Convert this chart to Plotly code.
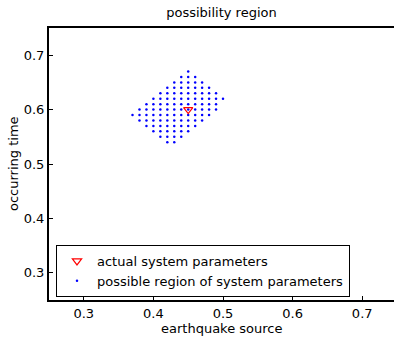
import plotly.graph_objects as go

# Actual system parameters
actual_x = [0.45]
actual_y = [0.60]

# Possible region of system parameters: one list of x values per row (y value)
row_y = [0.67, 0.66, 0.65, 0.64, 0.63, 0.62, 0.61, 0.60, 0.59, 0.58, 0.57, 0.56, 0.55, 0.54]
row_x = [
    [0.45],
    [0.44, 0.45, 0.46],
    [0.43, 0.44, 0.45, 0.46, 0.47],
    [0.42, 0.43, 0.44, 0.45, 0.46, 0.47, 0.48],
    [0.41, 0.42, 0.43, 0.44, 0.45, 0.46, 0.47, 0.48, 0.49],
    [0.40, 0.41, 0.42, 0.43, 0.44, 0.45, 0.46, 0.47, 0.48, 0.49, 0.50],
    [0.39, 0.40, 0.41, 0.42, 0.43, 0.44, 0.45, 0.46, 0.47, 0.48, 0.49],
    [0.38, 0.39, 0.40, 0.41, 0.42, 0.43, 0.44, 0.45, 0.46, 0.47, 0.48, 0.49],
    [0.37, 0.38, 0.39, 0.40, 0.41, 0.42, 0.43, 0.44, 0.45, 0.46, 0.47, 0.48],
    [0.38, 0.39, 0.40, 0.41, 0.42, 0.43, 0.44, 0.45, 0.46, 0.47],
    [0.39, 0.40, 0.41, 0.42, 0.43, 0.44, 0.45, 0.46],
    [0.40, 0.41, 0.42, 0.43, 0.44, 0.45],
    [0.41, 0.42, 0.43, 0.44],
    [0.42, 0.43],
]

tick_vals = [0.3, 0.4, 0.5, 0.6, 0.7]
tick_text = ["0.3", "0.4", "0.5", "0.6", "0.7"]

region_x = [x for xs in row_x for x in xs]
region_y = [y for y, xs in zip(row_y, row_x) for _ in xs]

FONT = "DejaVu Sans"
W, H = 394, 341
ML, MR, MT, MB = 49, 0, 28, 41
PW, PH = W - ML - MR, H - MT - MB

fig = go.Figure()
fig.add_trace(go.Scatter(
    x=region_x, y=region_y, mode="markers",
    marker=dict(symbol="circle", size=2.5, color="#0000ff", line=dict(width=0)),
    name="possible region of system parameters",
))
fig.add_trace(go.Scatter(
    x=actual_x, y=actual_y, mode="markers",
    marker=dict(symbol="triangle-down-open", size=8, color="#ff0000", line=dict(width=1.2)),
    name="actual system parameters",
))

axis_common = dict(
    showgrid=False, zeroline=False, showline=True, linecolor="black", linewidth=2,
    ticks="inside", ticklen=4, tickwidth=1, tickcolor="black",
    tickvals=tick_vals, ticktext=tick_text, automargin=False,
    tickfont=dict(family=FONT, size=13, color="black"),
)

fig.update_layout(
    width=W, height=H,
    margin=dict(l=ML, r=MR, t=MT, b=MB, autoexpand=False),
    paper_bgcolor="white", plot_bgcolor="white",
    font=dict(family=FONT, size=13, color="black"),
    title=dict(text="possibility region", x=0.5, xref="paper", xanchor="center",
               y=1 - 12 / H, yref="container", yanchor="middle",
               font=dict(family=FONT, size=13, color="black")),
    xaxis=dict(range=[0.25, 0.25 + PW / 696], mirror=True, **axis_common),
    yaxis=dict(range=[0.25, 0.75], mirror=False, **axis_common),
    legend=dict(x=(56 - ML) / PW, y=(300 - 297) / PH, xanchor="left", yanchor="bottom",
                bordercolor="black", borderwidth=1, bgcolor="white",
                traceorder="reversed", tracegroupgap=0,
                font=dict(family=FONT, size=13, color="black")),
    showlegend=True,
    annotations=[
        dict(text="earthquake source", xref="paper", yref="paper",
             x=0.5, y=-(328 - 300) / PH, xanchor="center", yanchor="middle",
             showarrow=False, font=dict(family=FONT, size=13, color="black")),
        dict(text="occurring time", xref="paper", yref="paper",
             x=-(ML - 13) / PW, y=0.5, xanchor="center", yanchor="middle",
             textangle=-90, showarrow=False,
             font=dict(family=FONT, size=13, color="black")),
    ],
)

fig.write_html(
    "out.html",
    config={"displayModeBar": False},
    post_script="document.body.style.margin='0';document.body.style.padding='0';"
                "document.body.style.overflow='hidden';",
)
